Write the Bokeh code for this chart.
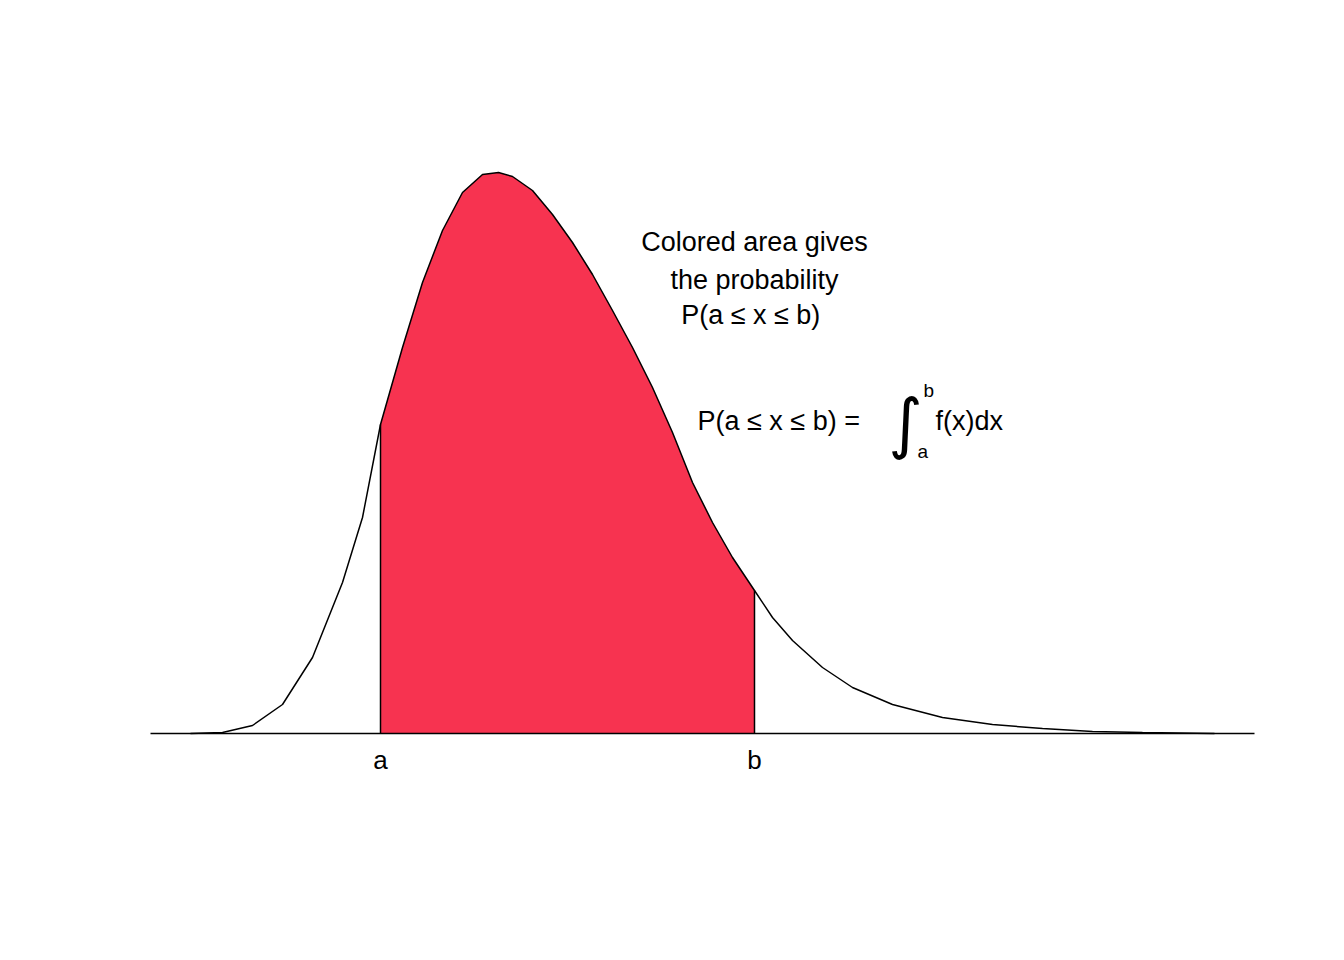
from bokeh.plotting import figure
from bokeh.models import Range1d
from bokeh.embed import file_html
from bokeh.resources import INLINE
from bokeh.core.properties import value

# curve (x position, density height)
curve_x = [198, 230, 260, 290, 320, 350, 370, 388, 410, 430, 450, 470, 490, 506, 520, 540, 560, 580,
           600, 620, 640, 660, 680, 700, 720, 740, 762, 780, 800, 830, 860, 900, 950, 1000, 1050, 1100, 1150, 1222]
curve_y = [0, 1, 8, 29, 76, 151, 216, 309, 386, 451, 503, 541, 559, 561, 557, 543, 519, 491,
           459, 423, 386, 346, 301, 251, 211, 176, 143, 116, 93, 66, 46, 29, 16, 9, 5, 2, 1, 0]
a_val, b_val = 388, 762
tick_labels = ["a", "b"]
axis_span = [158, 1262]

F = value("Liberation Sans")
p = figure(width=1328, height=944, output_backend="svg", toolbar_location=None,
           x_range=Range1d(8, 1336), y_range=Range1d(-211, 733), min_border=0)
p.axis.visible = False
p.grid.visible = False
p.outline_line_color = None

sx = [x for x in curve_x if a_val <= x <= b_val]
sy = [y for x, y in zip(curve_x, curve_y) if a_val <= x <= b_val]
p.varea(x=sx, y1=[0] * len(sx), y2=sy, fill_color="#F73350")
p.line(curve_x, curve_y, line_color="black", line_width=1.5)
p.segment(x0=[a_val, b_val], y0=[0, 0], x1=[a_val, b_val], y1=[sy[0], sy[-1]], line_color="black", line_width=1.5)
p.line(axis_span, [0, 0], line_color="black", line_width=1.5)

p.text(x=[a_val, b_val], y=[-26, -26], text=tick_labels, text_font=F, text_font_size="26px",
       text_align="center", text_baseline="middle", text_color="black")

p.text(x=[762, 762, 762], y=[492, 454, 419],
       text=["Colored area gives", "the probability", "P(a  \u2264 x \u2264 b)"],
       text_font=F, text_font_size="27px", text_align="center", text_baseline="middle", text_color="black")

p.text(x=[705], y=[313], text=["P(a  \u2264 x \u2264 b) ="], text_font=F, text_font_size="27px",
       text_align="left", text_baseline="middle", text_color="black")
p.text(x=[913], y=[310], text=["\u222b"], text_font=value("DejaVu Sans"), text_font_size="66px",
       text_align="center", text_baseline="middle", text_color="black")
p.text(x=[931, 925], y=[343, 282], text=["b", "a"], text_font=F, text_font_size="19px",
       text_align="left", text_baseline="middle", text_color="black")
p.text(x=[943], y=[313], text=["f(x)dx"], text_font=F, text_font_size="27px",
       text_align="left", text_baseline="middle", text_color="black")

open("out.html", "w").write(file_html(p, INLINE))
